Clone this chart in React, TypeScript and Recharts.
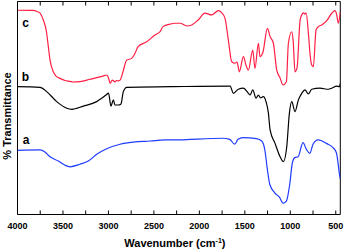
import React from 'react';
import { LineChart, Line, XAxis, YAxis, ReferenceDot, ReferenceArea } from 'recharts';

// Wavenumber (cm-1) and % transmittance (arbitrary scale 0-100)
const curveC = [
  { wn: 4000, t: 95.9 }, { wn: 3830, t: 95.8 }, { wn: 3785, t: 95.3 }, { wn: 3752, t: 94.5 },
  { wn: 3716, t: 91.3 }, { wn: 3679, t: 85.2 }, { wn: 3661, t: 78.8 }, { wn: 3642, t: 72.5 },
  { wn: 3606, t: 67.0 }, { wn: 3576, t: 65.0 }, { wn: 3532, t: 63.9 }, { wn: 3477, t: 62.9 },
  { wn: 3422, t: 62.5 }, { wn: 3390, t: 62.2 }, { wn: 3312, t: 62.4 }, { wn: 3202, t: 63.5 },
  { wn: 3060, t: 65.0 }, { wn: 3019, t: 65.5 }, { wn: 2999, t: 64.1 }, { wn: 2982, t: 61.6 },
  { wn: 2957, t: 63.1 }, { wn: 2928, t: 62.3 }, { wn: 2911, t: 62.9 }, { wn: 2894, t: 62.7 },
  { wn: 2872, t: 63.1 }, { wn: 2840, t: 67.0 }, { wn: 2799, t: 72.5 }, { wn: 2744, t: 73.3 },
  { wn: 2707, t: 75.7 }, { wn: 2674, t: 78.8 }, { wn: 2579, t: 81.1 }, { wn: 2488, t: 84.3 },
  { wn: 2432, t: 85.8 }, { wn: 2400, t: 88.2 }, { wn: 2322, t: 89.4 }, { wn: 2268, t: 89.8 },
  { wn: 2212, t: 89.8 }, { wn: 2139, t: 88.5 }, { wn: 2084, t: 89.0 }, { wn: 2014, t: 91.3 },
  { wn: 1938, t: 94.5 }, { wn: 1864, t: 93.7 }, { wn: 1791, t: 95.7 }, { wn: 1754, t: 94.7 },
  { wn: 1718, t: 92.1 }, { wn: 1681, t: 81.9 }, { wn: 1644, t: 71.7 }, { wn: 1608, t: 71.0 },
  { wn: 1586, t: 71.6 }, { wn: 1560, t: 67.0 }, { wn: 1516, t: 74.1 }, { wn: 1487, t: 70.2 },
  { wn: 1461, t: 67.8 }, { wn: 1413, t: 77.2 }, { wn: 1388, t: 68.6 }, { wn: 1351, t: 80.4 },
  { wn: 1333, t: 74.1 }, { wn: 1300, t: 76.3 }, { wn: 1252, t: 87.4 }, { wn: 1222, t: 83.5 },
  { wn: 1186, t: 80.4 }, { wn: 1149, t: 67.8 }, { wn: 1112, t: 64.1 }, { wn: 1080, t: 60.8 },
  { wn: 1043, t: 62.3 }, { wn: 1021, t: 80.4 }, { wn: 984, t: 85.8 }, { wn: 969, t: 81.9 },
  { wn: 948, t: 67.0 }, { wn: 926, t: 68.8 }, { wn: 892, t: 91.3 }, { wn: 874, t: 93.7 },
  { wn: 856, t: 94.7 }, { wn: 841, t: 94.1 }, { wn: 826, t: 94.7 }, { wn: 801, t: 85.2 },
  { wn: 782, t: 74.9 }, { wn: 764, t: 70.2 }, { wn: 746, t: 69.4 }, { wn: 717, t: 86.6 },
  { wn: 691, t: 88.2 }, { wn: 654, t: 89.0 }, { wn: 599, t: 91.0 }, { wn: 544, t: 94.5 },
  { wn: 508, t: 95.7 }, { wn: 491, t: 94.1 }, { wn: 471, t: 89.8 }, { wn: 450, t: 95.2 },
];

const curveB = [
  { wn: 4000, t: 60.0 }, { wn: 3752, t: 59.7 }, { wn: 3679, t: 57.7 }, { wn: 3569, t: 53.0 },
  { wn: 3459, t: 49.9 }, { wn: 3404, t: 49.4 }, { wn: 3276, t: 50.9 }, { wn: 3129, t: 53.0 },
  { wn: 3026, t: 56.1 }, { wn: 2999, t: 57.0 }, { wn: 2972, t: 50.9 }, { wn: 2946, t: 53.8 },
  { wn: 2928, t: 51.4 }, { wn: 2891, t: 51.4 }, { wn: 2862, t: 51.9 }, { wn: 2836, t: 57.7 },
  { wn: 2799, t: 59.7 }, { wn: 2322, t: 60.0 }, { wn: 1662, t: 60.3 }, { wn: 1626, t: 56.9 },
  { wn: 1571, t: 58.8 }, { wn: 1516, t: 59.3 }, { wn: 1461, t: 56.9 }, { wn: 1442, t: 56.1 },
  { wn: 1413, t: 58.5 }, { wn: 1376, t: 54.6 }, { wn: 1351, t: 56.1 }, { wn: 1327, t: 54.7 },
  { wn: 1296, t: 55.3 }, { wn: 1267, t: 53.0 }, { wn: 1241, t: 47.7 }, { wn: 1222, t: 39.7 },
  { wn: 1168, t: 33.4 }, { wn: 1112, t: 27.1 }, { wn: 1076, t: 24.8 }, { wn: 1039, t: 31.8 },
  { wn: 1010, t: 47.5 }, { wn: 984, t: 53.0 }, { wn: 948, t: 48.3 }, { wn: 911, t: 53.8 },
  { wn: 874, t: 56.9 }, { wn: 838, t: 58.5 }, { wn: 801, t: 56.6 }, { wn: 764, t: 58.8 },
  { wn: 673, t: 59.3 }, { wn: 581, t: 58.8 }, { wn: 544, t: 59.3 }, { wn: 489, t: 60.3 },
  { wn: 460, t: 60.0 }, { wn: 450, t: 61.6 },
];

const curveA = [
  { wn: 4000, t: 30.1 }, { wn: 3752, t: 30.3 }, { wn: 3698, t: 29.3 }, { wn: 3642, t: 27.1 },
  { wn: 3551, t: 25.1 }, { wn: 3477, t: 23.1 }, { wn: 3422, t: 22.4 }, { wn: 3312, t: 23.6 },
  { wn: 3221, t: 25.1 }, { wn: 3129, t: 28.3 }, { wn: 3019, t: 30.9 }, { wn: 2872, t: 33.0 },
  { wn: 2726, t: 34.0 }, { wn: 2542, t: 34.5 }, { wn: 2378, t: 35.0 }, { wn: 2290, t: 35.0 },
  { wn: 1740, t: 35.8 }, { wn: 1666, t: 35.3 }, { wn: 1611, t: 33.0 }, { wn: 1575, t: 35.3 },
  { wn: 1520, t: 36.1 }, { wn: 1373, t: 35.6 }, { wn: 1314, t: 34.5 }, { wn: 1281, t: 30.6 },
  { wn: 1252, t: 21.2 }, { wn: 1226, t: 14.2 }, { wn: 1171, t: 10.2 }, { wn: 1116, t: 7.9 },
  { wn: 1080, t: 5.3 }, { wn: 1043, t: 6.3 }, { wn: 1006, t: 14.2 }, { wn: 977, t: 24.3 },
  { wn: 951, t: 26.7 }, { wn: 915, t: 27.1 }, { wn: 860, t: 33.7 }, { wn: 823, t: 30.6 },
  { wn: 786, t: 28.7 }, { wn: 750, t: 33.0 }, { wn: 694, t: 35.0 }, { wn: 603, t: 33.4 },
  { wn: 530, t: 31.4 }, { wn: 493, t: 29.0 }, { wn: 456, t: 18.1 }, { wn: 450, t: 16.7 },
];

const xTicks = [500, 750, 1000, 1250, 1500, 1750, 2000, 2250, 2500, 2750, 3000, 3250, 3500, 3750, 4000];
const curveLabels = [
  { name: 'c', wn: 3912, t: 89.9 },
  { name: 'b', wn: 3912, t: 64.6 },
  { name: 'a', wn: 3905, t: 35.0 },
];

const FONT = '"Liberation Sans", Arial, sans-serif';

const BottomTick = (props: any) => {
  const { x, y, payload } = props;
  const v = payload.value;
  return (
    <g>
      <line x1={x} y1={y} x2={x} y2={y - 4} stroke="#000" strokeWidth={1} />
      {v % 500 === 0 ? (
        <text x={x} y={y + 14} textAnchor="middle" fontFamily={FONT} fontWeight="bold" fontSize={9} fill="#000">
          {v}
        </text>
      ) : null}
    </g>
  );
};

const TopTick = (props: any) => {
  const { x, y } = props;
  return <line x1={x} y1={y} x2={x} y2={y + 4} stroke="#000" strokeWidth={1} />;
};

const XLabel = (props: any) => {
  const vb = props.viewBox;
  return (
    <text x={vb.x + vb.width / 2 - 4} y={vb.y + vb.height - 5} textAnchor="middle" fontFamily={FONT} fontWeight="bold" fontSize={11} fill="#000">
      Wavenumber (cm<tspan fontSize={7} dy={-4}>-1</tspan><tspan dy={4}>)</tspan>
    </text>
  );
};

const YLabel = (props: any) => {
  const vb = props.viewBox;
  const cx = vb.x + vb.width - 11;
  const cy = vb.y + vb.height / 2 + 8;
  return (
    <text x={cx} y={cy} transform={`rotate(-90 ${cx} ${cy})`} textAnchor="middle" dominantBaseline="central" fontFamily={FONT} fontWeight="bold" fontSize={11} fill="#000">
      % Transmittance
    </text>
  );
};

const CurveName = (props: any) => {
  const { viewBox, value } = props;
  return (
    <text x={viewBox.x} y={viewBox.y} textAnchor="middle" dominantBaseline="central" fontFamily={FONT} fontWeight="bold" fontSize={12} fill="#000">
      {value}
    </text>
  );
};

export default function App() {
  return (
    <div style={{ position: 'fixed', left: 0, top: 0, background: '#fff' }}>
      <LineChart width={346} height={252} margin={{ top: 0.5, right: 4.7, bottom: 0, left: 16.5 }}>
        <XAxis
          xAxisId="b"
          dataKey="wn"
          type="number"
          domain={[450, 4000]}
          reversed
          allowDataOverflow
          ticks={xTicks}
          interval={0}
          height={37.5}
          tickSize={0}
          tickMargin={0}
          tickLine={false}
          tick={<BottomTick />}
          axisLine={false}
          label={<XLabel />}
        />
        <XAxis
          xAxisId="t"
          orientation="top"
          dataKey="wn"
          type="number"
          domain={[450, 4000]}
          reversed
          allowDataOverflow
          ticks={xTicks}
          interval={0}
          height={1}
          tickSize={0}
          tickMargin={0}
          tickLine={false}
          tick={<TopTick />}
          axisLine={false}
        />
        <YAxis
          yAxisId="l"
          type="number"
          domain={[0, 100]}
          allowDataOverflow
          width={1}
          tick={false}
          tickLine={false}
          axisLine={false}
          label={<YLabel />}
        />
        <YAxis
          yAxisId="r"
          orientation="right"
          type="number"
          domain={[0, 100]}
          width={1}
          tick={false}
          tickLine={false}
          axisLine={false}
        />
        <ReferenceArea xAxisId="b" yAxisId="l" x1={4000} x2={450} y1={0} y2={100} fill="none" fillOpacity={0} stroke="#000" strokeWidth={1} ifOverflow="visible" />
        <Line xAxisId="b" yAxisId="l" data={curveC} dataKey="t" type="monotone" stroke="#ff1f44" strokeWidth={1.2} dot={false} isAnimationActive={false} />
        <Line xAxisId="b" yAxisId="l" data={curveB} dataKey="t" type="monotone" stroke="#000000" strokeWidth={1.2} dot={false} isAnimationActive={false} />
        <Line xAxisId="b" yAxisId="l" data={curveA} dataKey="t" type="monotone" stroke="#1f3cff" strokeWidth={1.2} dot={false} isAnimationActive={false} />
        {curveLabels.map((c) => (
          <ReferenceDot key={c.name} xAxisId="b" yAxisId="l" x={c.wn} y={c.t} r={0} fill="none" stroke="none" label={<CurveName value={c.name} />} />
        ))}
      </LineChart>
    </div>
  );
}
